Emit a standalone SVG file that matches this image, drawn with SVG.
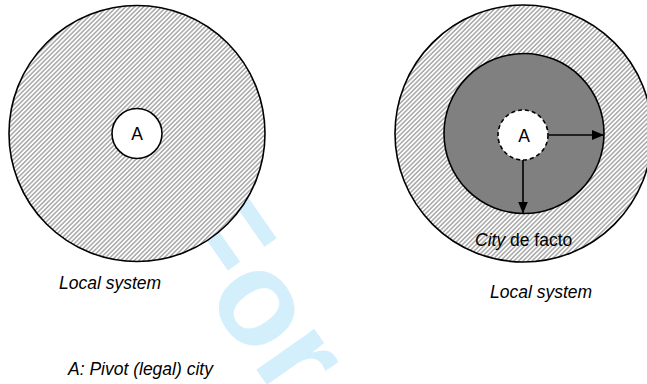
<svg xmlns="http://www.w3.org/2000/svg" width="647" height="384" viewBox="0 0 647 384">
<style>
.txt{font-family:"Liberation Sans",Arial,Helvetica,sans-serif;font-size:17.5px;fill:#000}
.it{font-style:italic}
.outline{stroke:#000;stroke-width:1.6}
.wm{font-family:"Liberation Sans",Arial,Helvetica,sans-serif;font-weight:bold;font-size:134px;fill:#d4effc}
.conn{stroke:#000;stroke-width:1.6;fill:none}
</style>
<defs>
<pattern id="hatch" patternUnits="userSpaceOnUse" width="3.2" height="3.2" patternTransform="rotate(45)">
<rect width="3.2" height="3.2" fill="#fff"/>
<line x1="0.8" y1="-1" x2="0.8" y2="5" stroke="#9a9a9a" stroke-width="1.3"/>
</pattern>
<marker id="arr" viewBox="0 0 12 10" refX="12" refY="5" markerWidth="12" markerHeight="10" markerUnits="userSpaceOnUse" orient="auto">
<path d="M0,0 L12,5 L0,10 Z" fill="#000"/>
</marker>
</defs>
<rect width="647" height="384" fill="#fff"/>
<text class="wm" transform="translate(157,228) rotate(55)">For</text>
<g id="left-system">
<circle cx="137" cy="133.5" r="128" fill="url(#hatch)" class="outline"/>
</g>
<g id="left-A">
<circle cx="137" cy="133.5" r="25" fill="#fff" class="outline"/>
<text class="txt" x="137" y="140" text-anchor="middle">A</text>
</g>
<g id="right-system">
<circle cx="523.5" cy="133.5" r="128.5" fill="url(#hatch)" class="outline"/>
</g>
<g id="city-de-facto">
<circle cx="524" cy="133.5" r="80" fill="#808080" class="outline"/>
</g>
<g id="right-A">
<circle cx="523" cy="135" r="25" fill="#fff" stroke="#000" stroke-width="1.6" stroke-dasharray="4,3"/>
<text class="txt" x="524" y="142" text-anchor="middle">A</text>
</g>
<g id="connectors">
<line class="conn" x1="549" y1="135" x2="604" y2="135" marker-end="url(#arr)"/>
<line class="conn" x1="523" y1="160" x2="523" y2="213.5" marker-end="url(#arr)"/>
</g>
<g id="labels">
<text class="txt" x="475" y="246"><tspan class="it">City</tspan> de facto</text>
<text class="txt it" x="59" y="289">Local system</text>
<text class="txt it" x="490" y="298">Local system</text>
<text class="txt it" x="68" y="375">A: Pivot (legal) city</text>
</g>
</svg>
